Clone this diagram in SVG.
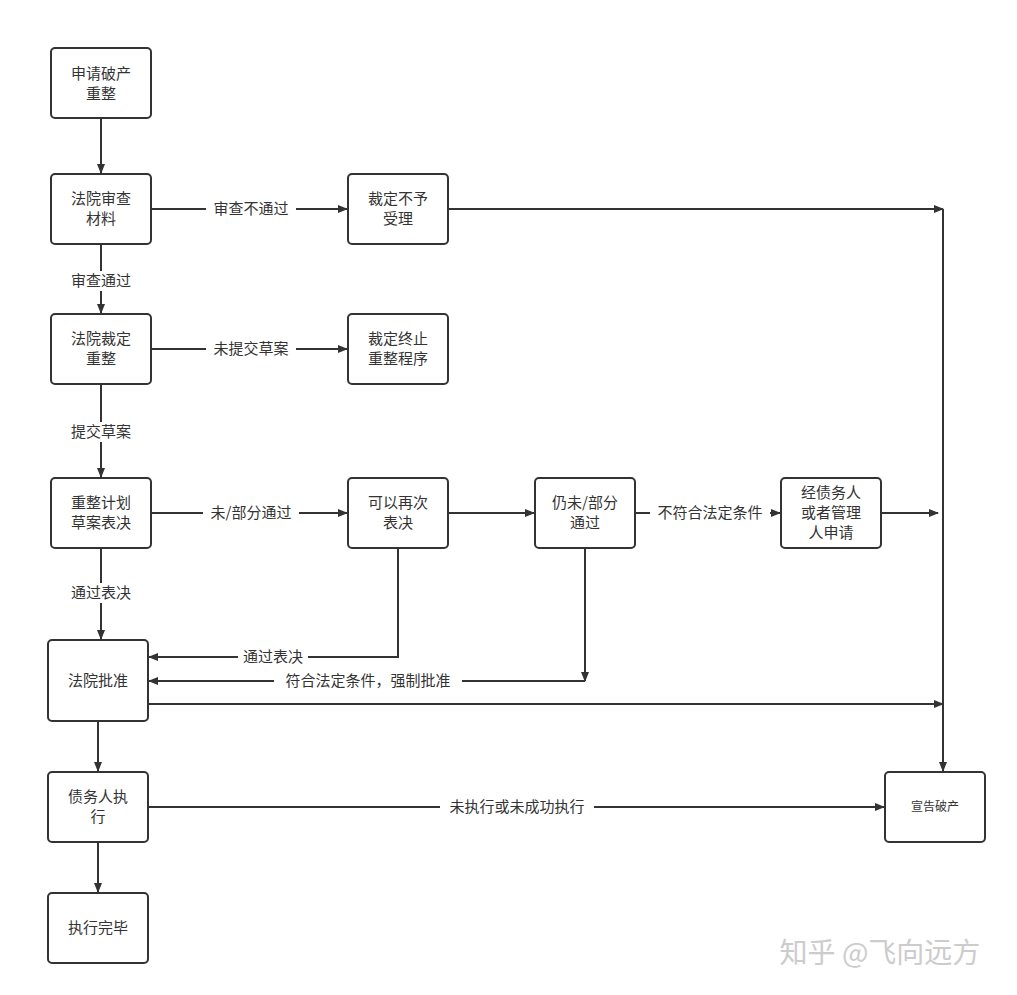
<svg xmlns="http://www.w3.org/2000/svg" width="1017" height="995" viewBox="0 0 1017 995">
<defs>
<marker id="ah" markerWidth="10" markerHeight="10" refX="9" refY="5" orient="auto" markerUnits="userSpaceOnUse"><path d="M0,1 L10,5 L0,9 Z" fill="#333"/></marker>
<style>
.n rect{fill:#fff;stroke:#333;stroke-width:2}
text{font-family:"Noto Sans CJK SC","Liberation Sans",sans-serif;font-size:15px;fill:#333;text-anchor:middle}
.c path{fill:none;stroke:#333;stroke-width:2;marker-end:url(#ah)}
.c line{stroke:#333;stroke-width:2}
.lb{fill:#fff}
</style>
</defs>
<rect width="1017" height="995" fill="#fff"/>
<g class="c">
<path d="M101,118 V173"/>
<path d="M151,209 H347"/>
<path d="M448,209 H943"/>
<path d="M943,209 V771"/>
<path d="M101,244 V313"/>
<path d="M151,349 H347"/>
<path d="M101,384 V477"/>
<path d="M151,513 H347"/>
<path d="M448,513 H534"/>
<path d="M635,513 H780"/>
<path d="M881,513 H938"/>
<path d="M101,548 V639"/>
<path d="M398,548 V657 H149"/>
<path d="M585,548 V681"/>
<path d="M585,681 H149"/>
<path d="M148,704 H943"/>
<path d="M98,721 V771"/>
<path d="M148,807 H884"/>
<path d="M98,842 V892"/>
</g>
<g id="labels">
<rect class="lb" x="206" y="199" width="90" height="20"/><text x="251" y="214">审查不通过</text>
<rect class="lb" x="66" y="271" width="70" height="20"/><text x="101" y="286">审查通过</text>
<rect class="lb" x="206" y="339" width="90" height="20"/><text x="251" y="354">未提交草案</text>
<rect class="lb" x="66" y="422" width="70" height="20"/><text x="101" y="437">提交草案</text>
<rect class="lb" x="203" y="503" width="96" height="20"/><text x="251" y="518">未/部分通过</text>
<rect class="lb" x="650" y="503" width="120" height="20"/><text x="710" y="518">不符合法定条件</text>
<rect class="lb" x="66" y="583" width="70" height="20"/><text x="101" y="598">通过表决</text>
<rect class="lb" x="238" y="647" width="70" height="20"/><text x="273" y="662">通过表决</text>
<rect class="lb" x="274" y="671" width="188" height="20"/><text x="368" y="686">符合法定条件，强制批准</text>
<rect class="lb" x="440" y="797" width="154" height="20"/><text x="517" y="812">未执行或未成功执行</text>
</g>
<g id="n1" class="n"><rect x="51" y="48" width="100" height="70" rx="4"/><text x="101" y="79">申请破产</text><text x="101" y="99">重整</text></g>
<g id="n2" class="n"><rect x="51" y="174" width="100" height="70" rx="4"/><text x="101" y="204">法院审查</text><text x="101" y="224">材料</text></g>
<g id="n3" class="n"><rect x="348" y="174" width="100" height="70" rx="4"/><text x="398" y="204">裁定不予</text><text x="398" y="224">受理</text></g>
<g id="n4" class="n"><rect x="51" y="314" width="100" height="70" rx="4"/><text x="101" y="344">法院裁定</text><text x="101" y="364">重整</text></g>
<g id="n5" class="n"><rect x="348" y="314" width="100" height="70" rx="4"/><text x="398" y="344">裁定终止</text><text x="398" y="364">重整程序</text></g>
<g id="n6" class="n"><rect x="51" y="478" width="100" height="70" rx="4"/><text x="101" y="508">重整计划</text><text x="101" y="528">草案表决</text></g>
<g id="n7" class="n"><rect x="348" y="478" width="100" height="70" rx="4"/><text x="398" y="508">可以再次</text><text x="398" y="528">表决</text></g>
<g id="n8" class="n"><rect x="535" y="478" width="100" height="70" rx="4"/><text x="585" y="508">仍未/部分</text><text x="585" y="528">通过</text></g>
<g id="n9" class="n"><rect x="781" y="478" width="100" height="70" rx="4"/><text x="831" y="498">经债务人</text><text x="831" y="518">或者管理</text><text x="831" y="538">人申请</text></g>
<g id="n10" class="n"><rect x="48" y="640" width="100" height="81" rx="4"/><text x="98" y="686">法院批准</text></g>
<g id="n11" class="n"><rect x="48" y="772" width="100" height="70" rx="4"/><text x="98" y="802">债务人执</text><text x="98" y="822">行</text></g>
<g id="n12" class="n"><rect x="48" y="893" width="100" height="70" rx="4"/><text x="98" y="933">执行完毕</text></g>
<g id="n13" class="n"><rect x="885" y="772" width="100" height="70" rx="4"/><text x="935" y="811" style="font-size:12px">宣告破产</text></g>
<text x="880" y="963" style="font-size:28px;fill:#ccc">知乎 @飞向远方</text>
</svg>
